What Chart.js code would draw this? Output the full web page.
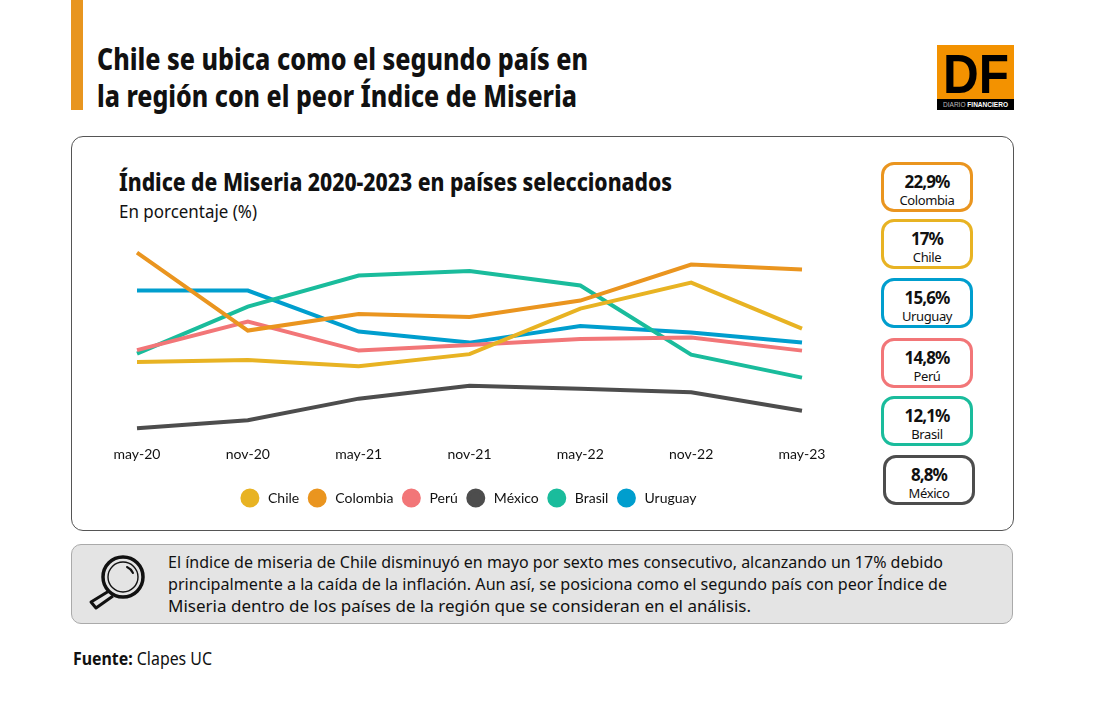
<!DOCTYPE html>
<html lang="es">
<head>
<meta charset="utf-8">
<title>Índice de Miseria</title>
<script src="https://cdn.jsdelivr.net/npm/chart.js@4"></script>
<style>
  html, body { margin: 0; padding: 0; background: #fff; }
  body { position: relative; width: 1095px; height: 720px; overflow: hidden; font-family: "Noto Sans", sans-serif; color: #111; }
  .abs { position: absolute; }
  .t { position: absolute; white-space: nowrap; transform-origin: left center; }
  .b { font-weight: 700; }
  .h { font-weight: 800; }
  #accent { left: 71px; top: 0; width: 12px; height: 110px; background: #e8951f; }
  #card { left: 71px; top: 136px; width: 941px; height: 393px; border: 1px solid #555; border-radius: 12px; }
  #note { left: 71px; top: 544px; width: 940px; height: 78px; border: 1px solid #aaa; border-radius: 10px; background: #e4e4e4; }
  #logo { left: 937px; top: 45px; width: 77px; height: 65px; background: #f39200; overflow: hidden; }
  #logo .bar { position: absolute; left: 0; right: 0; bottom: 0; height: 11px; background: #000; }
  #chart-wrap { left: 100px; top: 230px; width: 740px; height: 285px; }
  .kpi { position: absolute; box-sizing: border-box; width: 92px; height: 50px; border: 3px solid; border-radius: 13px; background: #fff; }
</style>
</head>
<body>
<div class="abs" id="accent"></div>
<div class="t h" data-w="491" style="left:97px;top:38px;font-size:31px;line-height:40px">Chile se ubica como el segundo país en</div>
<div class="t h" data-w="480" style="left:97px;top:75px;font-size:31px;line-height:40px">la región con el peor Índice de Miseria</div>

<div class="abs" id="logo">
  <div class="t b" data-w="66" style="left:6px;top:3px;font-family:'Liberation Sans';font-size:56px;line-height:52px;color:#000">DF</div>
  <div class="bar"></div>
  <div class="t" data-w="65" style="left:6px;top:55px;font-family:'Liberation Sans';font-size:7px;line-height:10px;color:#bbb">DIARIO <span class="b" style="color:#fff">FINANCIERO</span></div>
</div>

<div class="abs" id="card"></div>
<div class="t h" data-w="553" style="left:119px;top:167px;font-size:24px;line-height:30px">Índice de Miseria 2020-2023 en países seleccionados</div>
<div class="t" data-w="138" style="left:119px;top:200px;font-size:18px;line-height:22px">En porcentaje (%)</div>

<div class="abs" id="chart-wrap"><canvas id="chart-lines" width="740" height="285"></canvas></div>
<div id="kpis"></div>

<div class="abs" id="note"></div>
<svg class="abs" style="left:85px;top:550px" width="66" height="66" viewBox="0 0 66 66" fill="none" stroke="#111">
  <circle cx="38" cy="27" r="20" stroke-width="3.5"/>
  <circle cx="38" cy="27" r="15" stroke-width="1.4"/>
  <path d="M42 17 a12 12 0 0 1 6 6" stroke-width="2" stroke-linecap="round"/>
  <path d="M24 41 L6 52 L11 58 L28 46" stroke-width="3" stroke-linejoin="round"/>
</svg>
<div class="t" data-w="775" style="left:168px;top:551px;font-size:17px;line-height:22px">El índice de miseria de Chile disminuyó en mayo por sexto mes consecutivo, alcanzando un 17% debido</div>
<div class="t" data-w="779" style="left:168px;top:573px;font-size:17px;line-height:22px">principalmente a la caída de la inflación. Aun así, se posiciona como el segundo país con peor Índice de</div>
<div class="t" data-w="583" style="left:168px;top:595px;font-size:17px;line-height:22px">Miseria dentro de los países de la región que se consideran en el análisis.</div>

<div class="t" data-w="139" style="left:73px;top:647px;font-size:18px;line-height:22px"><span class="b">Fuente:</span> Clapes UC</div>

<script>
'use strict';

// ── Data ───────────────────────────────────────────────────────────────────
const MONTHS   = ['may-20', 'nov-20', 'may-21', 'nov-21', 'may-22', 'nov-22', 'may-23'];
const CHILE    = [13.65, 13.85, 13.25, 14.45, 19.0, 21.6, 17.0];
const COLOMBIA = [24.6, 16.8, 18.45, 18.15, 19.8, 23.4, 22.9];
const PERU     = [14.85, 17.7, 14.8, 15.35, 15.95, 16.1, 14.8];
const MEXICO   = [7.05, 7.85, 10.0, 11.3, 11.0, 10.65, 8.8];
const BRASIL   = [14.5, 19.2, 22.3, 22.75, 21.3, 14.4, 12.1];
const URUGUAY  = [20.8, 20.8, 16.7, 15.6, 17.25, 16.6, 15.6];

const KPI_LABELS = ['Colombia', 'Chile', 'Uruguay', 'Perú', 'Brasil', 'México'];
const KPI_VALUES = ['22,9%', '17%', '15,6%', '14,8%', '12,1%', '8,8%'];

// ── Colours ────────────────────────────────────────────────────────────────
const COLORS = {
  Chile: '#e8b323', Colombia: '#ea951f', 'Perú': '#f27678',
  'México': '#4d4d4d', Brasil: '#1abc9c', Uruguay: '#009ece',
};

// ── KPI boxes ──────────────────────────────────────────────────────────────
const KPI_POS = [[881, 162], [881, 219], [881, 278], [881, 338], [881, 396], [883, 455]];
document.getElementById('kpis').innerHTML = KPI_LABELS.map((name, i) => `
  <div class="kpi" style="left:${KPI_POS[i][0]}px;top:${KPI_POS[i][1]}px;border-color:${COLORS[name]}">
    <div class="b" style="text-align:center;font-size:17px;line-height:20px;margin-top:6.5px;letter-spacing:-0.9px">${KPI_VALUES[i]}</div>
    <div style="text-align:center;font-size:13px;line-height:16px;margin-top:0;letter-spacing:-0.4px">${name}</div>
  </div>`).join('');

// ── Fit text widths (the original face is narrower than the installed ones) ─
document.querySelectorAll('[data-w]').forEach(el => {
  const w = el.getBoundingClientRect().width;
  el.style.transform = `scaleX(${Number(el.dataset.w) / w})`;
});

// ── Chart ──────────────────────────────────────────────────────────────────
function line(label, data) {
  return {
    label, data,
    borderColor: COLORS[label], backgroundColor: COLORS[label],
    borderWidth: 4, pointRadius: 0, tension: 0,
    borderCapStyle: 'butt', borderJoinStyle: 'miter',
  };
}

new Chart(document.getElementById('chart-lines'), {
  type: 'line',
  data: {
    labels: MONTHS,
    datasets: [
      line('Chile', CHILE), line('Colombia', COLOMBIA), line('Perú', PERU),
      line('México', MEXICO), line('Brasil', BRASIL), line('Uruguay', URUGUAY),
    ],
  },
  options: {
    responsive: false,
    animation: false,
    layout: { padding: { left: 37, right: 38, top: 8.5, bottom: 0 } },
    plugins: {
      tooltip: { enabled: false },
      legend: {
        position: 'bottom',
        labels: {
          usePointStyle: true, pointStyle: 'circle', pointStyleWidth: 15, boxHeight: 10.5,
          padding: 10.5, color: '#111', font: { family: 'Lato', size: 14 },
          // leading space widens the gap between marker and name
          generateLabels(chart) {
            return Chart.defaults.plugins.legend.labels.generateLabels(chart)
              .map(item => ({ ...item, text: ' ' + item.text }));
          },
        },
      },
    },
    scales: {
      y: { display: false, min: 6, max: 26 },
      x: {
        offset: false,
        grid: { display: false },
        border: { display: false },
        ticks: { color: '#111', padding: -1, autoSkip: false, maxRotation: 0, font: { family: 'Lato', size: 14 } },
        afterFit(scale) { scale.height += 19; },
      },
    },
  },
});
</script>
</body>
</html>
